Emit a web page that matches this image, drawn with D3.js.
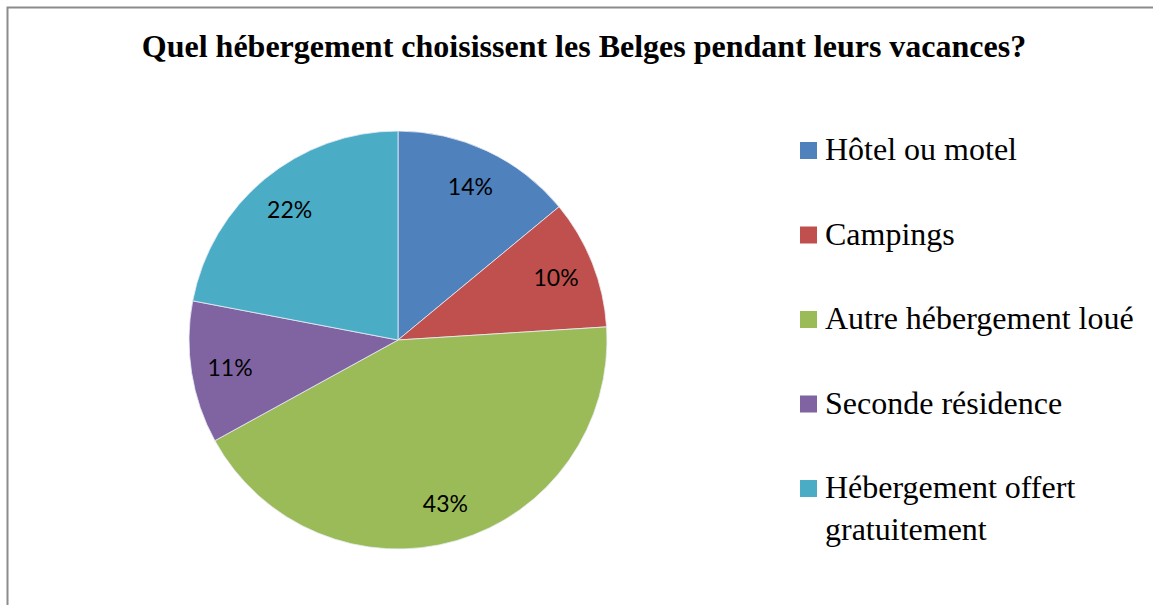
<!DOCTYPE html>
<html>
<head>
<meta charset="utf-8">
<script src="https://cdn.jsdelivr.net/npm/d3@7"></script>
<style>
    body { margin: 0; background: #fff; }
</style>
</head>
<body>
<script>
// Data
const categories = ["Hôtel ou motel", "Campings", "Autre hébergement loué", "Seconde résidence", "Hébergement offert gratuitement"];
const values = [14, 10, 43, 11, 22];
const colors = ["#4F81BD", "#C0504D", "#9BBB59", "#8064A2", "#4BACC6"];
const legendLines = [["Hôtel ou motel"], ["Campings"], ["Autre hébergement loué"], ["Seconde résidence"], ["Hébergement offert", "gratuitement"]];
const title = "Quel hébergement choisissent les Belges pendant leurs vacances?";

const svgWidth = 1153;
const svgHeight = 605;

window.onload = main;

function main() {
    const svg = d3.select("body")
        .append("svg")
        .attr("width", svgWidth)
        .attr("height", svgHeight);

    // chart frame (only top and left edges visible)
    svg.append("rect")
        .attr("x", 7.5)
        .attr("y", 7.5)
        .attr("width", svgWidth + 20)
        .attr("height", svgHeight + 20)
        .attr("fill", "white")
        .attr("stroke", "#8c8c8c")
        .attr("stroke-width", 2);

    svg.append("text")
        .text(title)
        .attr("x", 584)
        .attr("y", 57)
        .attr("text-anchor", "middle")
        .style("font-family", "'Liberation Serif', 'Times New Roman', serif")
        .style("font-weight", "bold")
        .style("font-size", "32px")
        .attr("fill", "black");

    const data = categories.map((c, i) => ({name: c, value: values[i], color: colors[i]}));

    const cx = 398, cy = 340, radius = 209;
    const pieG = svg.append("g")
        .attr("transform", `translate(${cx},${cy})`);

    const pie = d3.pie().value(d => d.value).sort(null);
    const arcs = pie(data);

    const arcGen = d3.arc().innerRadius(0).outerRadius(radius);
    const labelArc = d3.arc().innerRadius(170).outerRadius(170);

    pieG.selectAll("path")
        .data(arcs)
        .join("path")
        .attr("d", arcGen)
        .attr("fill", d => d.data.color)
        .attr("stroke", "#e8eef5")
        .attr("stroke-width", 0.8);

    const total = d3.sum(values);
    pieG.selectAll("text")
        .data(arcs)
        .join("text")
        .text(d => `${Math.round(d.data.value / total * 100)}%`)
        .attr("x", d => labelArc.centroid(d)[0])
        .attr("y", d => labelArc.centroid(d)[1])
        .attr("text-anchor", "middle")
        .attr("dominant-baseline", "central")
        .style("font-family", "Lato, 'Open Sans', sans-serif")
        .style("font-size", "23px")
        .attr("fill", "black");

    // Legend
    const legendY = d3.scalePoint()
        .domain(categories)
        .range([142, 480]);
    const sq = 17;

    const legend = svg.append("g");
    const rows = legend.selectAll("g")
        .data(data)
        .join("g")
        .attr("transform", d => `translate(800, ${legendY(d.name)})`);

    rows.append("rect")
        .attr("width", sq)
        .attr("height", sq)
        .attr("fill", d => d.color);

    rows.append("text")
        .attr("x", 25)
        .attr("y", sq + 1)
        .style("font-family", "'Liberation Serif', 'Times New Roman', serif")
        .style("font-size", "32px")
        .attr("fill", "black")
        .selectAll("tspan")
        .data((d, i) => legendLines[i])
        .join("tspan")
        .attr("x", 25)
        .attr("dy", (d, i) => i === 0 ? 0 : 42)
        .text(d => d);
}
</script>
</body>
</html>
